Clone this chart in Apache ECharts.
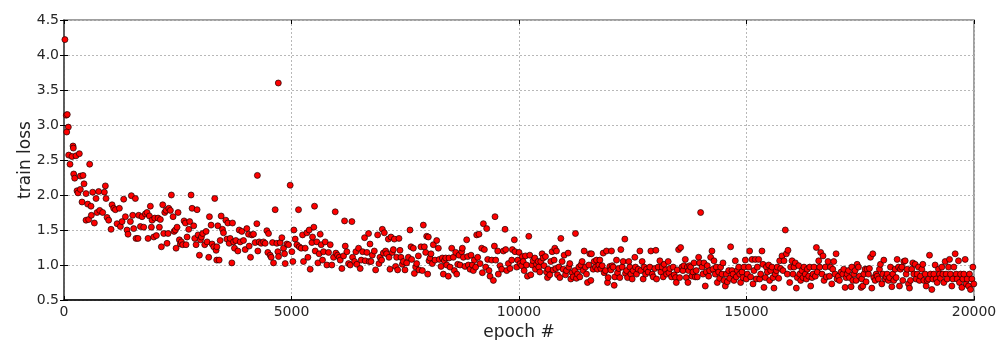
<!DOCTYPE html>
<html>
<head>
<meta charset="utf-8">
<script src="https://cdn.jsdelivr.net/npm/echarts@6/dist/echarts.min.js"></script>
<style>html,body{margin:0;padding:0;background:#fff}#c{width:996px;height:340px}</style>
</head>
<body>
<div id="c"></div>
<script>
const xTicks = [0, 5000, 10000, 15000, 20000];
const yTicks = [0.5, 1.0, 1.5, 2.0, 2.5, 3.0, 3.5, 4.0, 4.5];

const seg1 = [[20,4.22],[50,3.14],[72,3.15],[95,2.97],[60,2.90],[103,2.57],[132,2.44],[176,2.55],[198,2.70],[205,2.67],[264,2.56],[337,2.59],[564,2.44],[213,2.30],[235,2.24],[359,2.27],[418,2.28],[440,2.16],[286,2.06],[308,2.03],[359,2.08],[396,1.90],[484,2.02],[520,1.87],[594,1.84],[630,2.04],[704,1.95],[762,2.05],[887,2.04],[909,2.13],[924,1.95],[484,1.64],[542,1.65],[601,1.71],[667,1.60],[726,1.75],[784,1.78],[850,1.75],[946,1.68],[982,1.64],[1034,1.51],[1056,1.86],[1092,1.81],[1129,1.79],[1166,1.59],[1217,1.81],[1239,1.55],[1276,1.62],[1312,1.94],[1349,1.69],[1385,1.50],[1407,1.44],[1459,1.62],[1481,1.99],[1510,1.71],[1532,1.52],[1569,1.95],[1583,1.38],[1627,1.38],[1642,1.71],[1679,1.55],[1715,1.69],[1752,1.54],[1788,1.73],[1825,1.75],[1847,1.38],[1876,1.70],[1898,1.84],[1920,1.54],[1935,1.64],[1972,1.40],[1994,1.67],[2030,1.42],[2067,1.67],[2096,1.54],[2118,1.65],[2140,1.26],[2170,1.86],[2192,1.45],[2214,1.75],[2243,1.78],[2265,1.31],[2287,1.45],[2302,1.81],[2338,1.78],[2360,2.00],[2397,1.69],[2419,1.48],[2448,1.50],[2463,1.24],[2485,1.54],[2507,1.75],[2536,1.36],[2558,1.30],[2580,1.33],[2609,1.29],[2639,1.63],[2668,1.60],[2683,1.29],[2705,1.40],[2742,1.51],[2763,1.62],[2793,2.00],[2815,1.81],[2851,1.56],[2873,1.38],[2903,1.29],[2925,1.79],[2947,1.43],[2976,1.14],[2998,1.36],[3020,1.40],[3049,1.45],[3093,1.29],[3123,1.48],[3145,1.33],[3181,1.11],[3196,1.69],[3233,1.57],[3255,1.30],[3291,1.26],[3313,1.95],[3343,1.21],[3357,1.07]];

const seg2 = [[3381,1.56],[3359,1.26],[3410,1.07],[3454,1.70],[3483,1.51],[3432,1.35],[3505,1.46],[3557,1.64],[3579,1.37],[3601,1.60],[3630,1.31],[3652,1.38],[3689,1.03],[3703,1.60],[3725,1.33],[3747,1.24],[3777,1.35],[3821,1.20],[3850,1.50],[3872,1.33],[3908,1.48],[3945,1.35],[3982,1.22],[4018,1.52],[4055,1.44],[4070,1.27],[4099,1.11],[4128,1.43],[4165,1.44],[4201,1.32],[4238,1.59],[4250,2.28],[4260,1.20],[4289,1.33],[4333,1.31],[4385,1.33],[4421,1.31],[4458,1.49],[4480,1.18],[4495,1.45],[4531,1.14],[4553,1.11],[4583,1.32],[4605,1.03],[4641,1.79],[4678,1.31],[4700,1.19],[4710,3.60],[4715,1.12],[4751,1.32],[4788,1.39],[4825,1.24],[4847,1.16],[4861,1.02],[4898,1.30],[4935,1.29],[4971,2.14],[5008,1.19],[5030,1.05],[5052,1.50],[5081,1.37],[5118,1.29],[5154,1.79],[5169,1.26],[5213,1.24],[5243,1.43],[5264,1.05],[5301,1.24],[5338,1.46],[5360,1.11],[5389,1.50],[5411,0.94],[5448,1.32],[5462,1.40],[5491,1.54],[5506,1.84],[5521,1.20],[5557,1.33],[5580,1.03],[5609,1.16],[5631,1.44],[5653,1.29],[5682,1.07],[5704,1.19],[5741,1.33],[5777,1.00],[5814,1.18],[5851,1.29],[5887,1.00],[5924,1.11],[5961,1.76],[5975,1.17],[6012,1.14],[6049,1.11],[6071,1.07],[6107,0.95],[6144,1.13],[6166,1.63],[6181,1.27],[6217,1.19],[6254,1.02],[6291,1.00],[6327,1.62],[6342,1.11],[6386,1.05],[6415,1.19],[6437,1.01],[6474,1.24],[6510,0.95],[6532,1.07],[6562,1.19],[6606,1.39],[6620,1.06],[6657,1.18],[6694,1.45],[6708,1.05]];

const seg3 = [[6725,1.30],[6747,1.05],[6776,1.14],[6820,1.20],[6849,0.93],[6893,1.43],[6923,1.02],[6945,1.11],[6981,1.07],[6996,1.51],[7018,1.17],[7040,1.46],[7069,1.20],[7091,1.16],[7128,1.37],[7143,1.11],[7164,0.94],[7186,1.40],[7216,1.18],[7238,1.22],[7260,1.37],[7289,0.98],[7311,1.11],[7333,0.93],[7362,1.38],[7384,1.21],[7406,1.11],[7436,1.01],[7458,1.05],[7494,0.93],[7531,1.03],[7568,1.11],[7604,1.50],[7626,1.26],[7641,1.08],[7678,1.24],[7700,0.88],[7729,0.97],[7751,1.02],[7788,1.13],[7802,0.93],[7846,1.26],[7876,0.92],[7897,1.57],[7920,1.26],[7949,1.18],[7971,1.41],[7993,0.87],[8007,1.40],[8022,1.06],[8044,1.10],[8066,1.16],[8095,1.02],[8117,1.29],[8154,1.07],[8191,1.35],[8227,1.24],[8249,1.08],[8286,0.98],[8315,1.10],[8337,0.87],[8359,1.06],[8389,1.10],[8411,1.00],[8447,0.84],[8462,1.10],[8484,0.97],[8521,1.24],[8557,1.11],[8579,0.92],[8609,1.18],[8631,0.87],[8653,1.01],[8682,1.14],[8704,1.00],[8741,1.19],[8755,1.24],[8777,1.11],[8814,0.98],[8850,1.36],[8872,1.12],[8887,1.00],[8924,0.94],[8946,1.14],[8975,1.00],[8997,0.92],[9019,1.07],[9048,0.97],[9070,1.43],[9092,1.11],[9121,1.44],[9143,1.02],[9180,1.24],[9195,0.89],[9217,1.59],[9239,1.22],[9268,0.97],[9290,1.52],[9312,1.08],[9341,0.92],[9363,0.84],[9400,1.07],[9437,0.78],[9459,1.27],[9473,1.69],[9488,1.07],[9532,1.20],[9546,0.87],[9583,0.99],[9620,0.94],[9657,1.20],[9693,1.51],[9708,1.22],[9730,0.92],[9766,1.02],[9803,0.95],[9840,1.07],[9854,1.22],[9898,1.36],[9913,1.19],[9950,0.97],[9972,1.07],[10001,1.18],[10023,1.02]];

const seg4 = [[10060,0.99],[10074,1.12],[10091,1.05],[10113,0.92],[10142,1.13],[10164,1.00],[10186,0.84],[10215,1.41],[10237,1.14],[10259,0.86],[10289,1.00],[10311,1.06],[10347,1.10],[10362,0.94],[10384,1.01],[10421,1.05],[10435,0.97],[10457,0.90],[10479,1.05],[10508,1.16],[10530,1.10],[10552,0.99],[10582,1.12],[10604,0.90],[10626,0.82],[10640,0.94],[10677,0.86],[10699,1.05],[10728,1.19],[10750,0.93],[10772,1.07],[10787,1.24],[10809,0.95],[10824,1.20],[10846,0.86],[10875,0.97],[10897,0.82],[10919,1.38],[10948,1.05],[10970,0.94],[10992,1.14],[11022,0.86],[11044,0.92],[11080,1.17],[11095,0.97],[11117,1.02],[11139,0.80],[11168,0.89],[11190,0.83],[11227,0.92],[11241,1.45],[11263,0.81],[11285,0.87],[11315,0.97],[11337,0.83],[11359,1.00],[11388,1.05],[11410,0.92],[11432,1.20],[11461,0.97],[11483,0.87],[11505,0.75],[11535,1.00],[11557,1.16],[11579,0.78],[11593,1.16],[11630,0.94],[11652,1.05],[11681,0.97],[11703,1.07],[11725,0.94],[11755,1.00],[11777,1.07],[11799,0.95],[11828,0.99],[11850,1.17],[11872,0.89],[11901,0.92],[11923,1.20],[11945,0.75],[11960,0.82],[11996,0.98],[12018,0.93],[12033,1.20],[12048,0.99],[12070,0.97],[12092,0.71],[12106,0.83],[12143,1.07],[12165,0.89],[12194,0.95],[12216,0.82],[12238,1.22],[12268,0.97],[12289,1.05],[12326,1.37],[12341,0.88],[12363,0.92],[12385,0.82],[12414,1.05],[12436,0.97],[12458,0.87],[12487,0.80],[12509,0.92],[12546,1.11],[12561,0.97],[12583,0.87],[12619,0.94],[12656,1.20],[12678,0.92],[12707,1.05],[12729,0.80],[12751,0.97],[12781,0.87],[12803,0.94],[12839,0.90],[12876,0.97],[12898,1.20],[12927,0.87],[12949,0.83],[12986,0.95],[13008,1.21],[13023,0.80],[13059,0.97],[13096,1.06],[13118,0.90],[13147,0.97],[13169,0.83],[13191,1.01],[13221,0.93],[13243,0.87],[13279,1.05],[13294,0.89],[13316,0.95],[13353,0.83],[13389,0.97],[13411,0.86]];

const seg5 = [[13442,0.82],[13457,0.75],[13479,0.93],[13508,1.22],[13530,0.82],[13552,1.25],[13581,0.97],[13603,0.92],[13625,0.99],[13655,1.08],[13677,0.82],[13699,0.97],[13713,0.75],[13728,0.92],[13750,0.99],[13772,0.97],[13801,0.84],[13823,0.90],[13845,1.03],[13874,0.83],[13896,0.92],[13918,0.83],[13948,1.11],[13970,1.03],[13992,1.75],[14021,0.97],[14043,0.87],[14065,1.03],[14094,0.70],[14116,0.90],[14138,0.99],[14168,0.84],[14190,0.92],[14212,1.11],[14241,1.20],[14263,0.94],[14285,1.06],[14314,0.87],[14336,0.97],[14358,0.75],[14388,0.90],[14410,0.81],[14432,0.97],[14461,0.87],[14483,1.03],[14505,0.78],[14534,0.70],[14556,0.87],[14578,0.76],[14608,0.92],[14630,0.81],[14651,1.26],[14681,0.92],[14703,0.87],[14725,0.78],[14754,1.06],[14776,0.83],[14798,0.92],[14828,0.97],[14850,0.87],[14871,0.75],[14901,0.90],[14923,0.82],[14945,0.97],[14974,1.07],[14996,0.80],[15018,0.87],[15047,0.97],[15069,1.20],[15091,0.83],[15121,1.08],[15143,0.73],[15164,0.92],[15194,1.08],[15216,0.80],[15238,0.97],[15267,1.08],[15289,0.80],[15311,0.87],[15340,1.20],[15362,1.01],[15384,0.68],[15414,0.82],[15436,0.97],[15458,0.90],[15487,1.00],[15509,0.78],[15531,0.92],[15560,0.97],[15583,0.82],[15604,0.67],[15633,0.87],[15656,0.92],[15677,0.97],[15707,0.81],[15729,1.06],[15751,0.95],[15780,1.13],[15802,0.92],[15824,1.06],[15853,1.50],[15876,1.16],[15898,0.87],[15912,1.21],[15949,0.75],[15971,0.97],[16000,1.06],[16022,0.87],[16044,0.97],[16073,1.03],[16095,0.67],[16117,0.82],[16147,0.99],[16169,0.87],[16191,0.78],[16220,0.92],[16242,0.82],[16264,0.97],[16293,0.87],[16316,0.80],[16337,0.94],[16367,0.84],[16389,0.97],[16411,0.70],[16440,0.82],[16462,0.87],[16484,0.97],[16513,0.84],[16536,1.25],[16557,0.90],[16587,1.06],[16609,0.97],[16630,1.18],[16660,0.87],[16682,1.13],[16704,0.78],[16733,0.97],[16755,0.83],[16792,1.05]];

const seg6 = [[16823,0.84],[16845,0.97],[16874,0.73],[16896,0.94],[16918,1.05],[16947,0.87],[16969,1.16],[16991,0.80],[17021,0.84],[17043,0.78],[17079,0.90],[17116,0.87],[17138,0.94],[17167,0.68],[17189,0.82],[17211,0.87],[17241,0.92],[17263,0.82],[17299,0.69],[17314,0.97],[17336,0.78],[17358,0.87],[17387,0.92],[17409,0.78],[17431,1.01],[17460,0.97],[17482,0.84],[17519,0.68],[17534,0.80],[17556,0.70],[17578,0.87],[17607,0.94],[17629,0.76],[17651,0.94],[17680,0.87],[17702,0.95],[17725,1.11],[17754,0.67],[17776,1.16],[17798,0.82],[17827,0.78],[17849,0.87],[17871,0.84],[17900,0.80],[17922,0.94],[17944,1.01],[17974,0.73],[17996,0.87],[18018,1.07],[18047,0.80],[18069,0.83],[18091,0.87],[18120,0.78],[18142,0.82],[18164,0.97],[18194,0.69],[18215,0.87],[18237,0.78],[18267,0.94],[18289,0.82],[18311,1.08],[18340,0.97],[18362,0.70],[18384,0.94],[18414,0.97],[18435,0.78],[18457,1.05],[18487,1.06],[18509,0.87],[18531,0.94],[18560,0.73],[18582,0.67],[18604,0.78],[18633,0.94],[18655,1.03],[18677,0.87],[18707,1.01],[18729,0.80],[18751,0.87],[18780,0.97],[18802,0.78],[18824,0.84],[18853,0.94],[18875,1.01],[18897,0.78],[18927,0.87],[18949,0.70],[18970,0.78],[19000,0.80],[19022,1.14],[19044,0.87],[19073,0.65],[19095,0.80],[19117,0.87],[19146,1.00],[19168,0.80],[19190,0.75],[19220,0.94],[19242,0.87],[19264,0.81],[19293,0.97],[19315,0.87],[19337,0.75],[19366,1.05],[19388,0.87],[19410,0.80],[19440,0.97],[19462,1.08],[19484,0.87],[19513,0.70],[19535,0.80],[19557,0.97],[19586,1.16],[19608,0.87],[19630,0.80],[19659,1.06],[19681,0.75],[19704,0.87],[19733,0.68],[19755,0.80],[19777,0.87],[19806,1.08],[19828,0.73],[19850,0.80],[19879,0.70],[19901,0.87],[19923,0.65],[19953,0.80],[19975,0.97],[19996,0.73]];

const points = [].concat(seg1, seg2, seg3, seg4, seg5, seg6);

const chart = echarts.init(document.getElementById('c'), null, {renderer: 'canvas'});
const FONT = 'DejaVu Sans';
const tickFmtY = v => v.toFixed(1);
const tickFmtX = v => String(v);
chart.setOption({
  animation: false,
  backgroundColor: '#ffffff',
  grid: {left: 64, right: 22, top: 20, bottom: 40, containLabel: false, outerBoundsMode: 'none',
         show: true, borderColor: '#808080', borderWidth: 1.5, backgroundColor: 'transparent'},
  xAxis: [{
    type: 'value', min: xTicks[0], max: xTicks[xTicks.length - 1], interval: xTicks[1] - xTicks[0],
    name: 'epoch #', nameLocation: 'middle', nameGap: 24, nameMoveOverlap: false,
    nameTextStyle: {fontFamily: FONT, fontSize: 17, color: '#222'},
    axisLine: {show: true, lineStyle: {color: '#000', width: 1.5}},
    axisTick: {show: true, inside: true, length: 4, lineStyle: {color: '#000'}},
    axisLabel: {fontFamily: FONT, fontSize: 14, color: '#262626', margin: 5, formatter: tickFmtX},
    splitLine: {show: true, lineStyle: {color: '#b8b8b8', width: 1, type: [2, 2]}}
  }, {
    type: 'value', position: 'top', min: xTicks[0], max: xTicks[xTicks.length - 1], interval: xTicks[1] - xTicks[0],
    axisLine: {show: false}, axisTick: {show: true, inside: true, length: 4, lineStyle: {color: '#000'}},
    axisLabel: {show: false}, splitLine: {show: false}
  }],
  yAxis: [{
    type: 'value', min: yTicks[0], max: yTicks[yTicks.length - 1], interval: 0.5,
    name: 'train loss', nameLocation: 'middle', nameGap: 30, nameMoveOverlap: false,
    nameTextStyle: {fontFamily: FONT, fontSize: 17, color: '#222'},
    axisLine: {show: true, lineStyle: {color: '#444', width: 1.5}},
    axisTick: {show: true, inside: true, length: 4, lineStyle: {color: '#000'}},
    axisLabel: {fontFamily: FONT, fontSize: 14, color: '#262626', margin: 5, formatter: tickFmtY},
    splitLine: {show: true, lineStyle: {color: '#b8b8b8', width: 1, type: [2, 2]}}
  }, {
    type: 'value', position: 'right', min: yTicks[0], max: yTicks[yTicks.length - 1], interval: 0.5,
    axisLine: {show: false}, axisTick: {show: true, inside: true, length: 4, lineStyle: {color: '#000'}},
    axisLabel: {show: false}, splitLine: {show: false}
  }],
  series: [{
    type: 'scatter', xAxisIndex: 0, yAxisIndex: 0,
    data: points, symbol: 'circle', symbolSize: 6,
    itemStyle: {color: '#ff0000', borderColor: '#1a0000', borderWidth: 0.7, opacity: 1}
  }]
});
</script>
</body>
</html>
